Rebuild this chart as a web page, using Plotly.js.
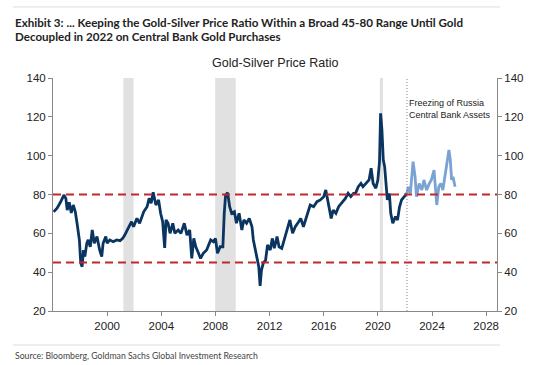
<!DOCTYPE html>
<html>
<head>
<meta charset="utf-8">
<script src="https://cdn.plot.ly/plotly-3.0.1.min.js"></script>
<style>
  html, body { margin: 0; padding: 0; background: #fff; }
  #chart { width: 559px; height: 365px; }
</style>
</head>
<body>
<div id="chart"></div>
<script>
// Gold-silver price ratio, before the freezing of Russian central bank assets
const yearsBefore = [1996.05,1996.3,1996.55,1996.8,1996.95,1997.05,1997.2,1997.35,1997.5,1997.65,1997.8,1997.95,
  1998.05,1998.15,1998.25,1998.35,1998.5,1998.6,1998.75,1998.9,1999.05,1999.25,1999.45,1999.6,1999.7,1999.9,
  2000.0,2000.2,2000.45,2000.7,2000.95,2001.15,2001.3,2001.55,2001.8,2001.95,2002.2,2002.4,2002.55,2002.7,2002.95,
  2003.1,2003.25,2003.4,2003.6,2003.8,2003.95,2004.1,2004.25,2004.35,2004.5,2004.65,2004.85,2005.0,2005.25,2005.45,
  2005.7,2005.9,2006.1,2006.25,2006.4,2006.55,2006.75,2006.9,2007.1,2007.35,2007.65,2007.85,2008.0,2008.15,2008.35,
  2008.55,2008.65,2008.75,2008.9,2009.05,2009.2,2009.4,2009.55,2009.75,2009.95,2010.1,2010.3,2010.5,2010.7,2010.8,
  2011.0,2011.2,2011.3,2011.4,2011.55,2011.7,2011.85,2012.05,2012.2,2012.35,2012.55,2012.7,2012.9,2013.15,2013.35,
  2013.5,2013.7,2013.9,2014.15,2014.3,2014.5,2014.75,2015.0,2015.25,2015.5,2015.75,2016.0,2016.15,2016.35,2016.55,
  2016.7,2016.9,2017.1,2017.3,2017.45,2017.6,2017.8,2018.0,2018.2,2018.35,2018.55,2018.75,2018.9,2019.15,2019.35,
  2019.5,2019.65,2019.85,2020.0,2020.12,2020.2,2020.3,2020.4,2020.5,2020.6,2020.7,2020.85,2020.95,2021.1,2021.3,
  2021.45,2021.6,2021.75,2021.95,2022.15];
const ratioBefore = [71.1,73,76,79.7,78,72,76,70.5,74.6,71,64,56.5,
  44.7,42.8,51.4,48,55,56.6,53,61.7,54.9,58.3,51.4,48,54.9,58.3,
  54.9,56.6,55.7,56.6,56.2,57.4,59.1,62.6,66,63.4,67.7,65.2,68.6,71.1,73.7,
  78,75.5,81.2,74.6,77.2,70.3,66,52.5,66.9,65.2,60,65.2,60,61.7,60,
  65.2,59.1,61.7,47.1,57.4,53.1,49.7,47.1,49.7,51.4,56.6,55.7,57.4,49.7,53.1,
  53.1,70.3,79.7,80.9,73.7,70.3,71.1,65.2,70.3,61.7,66.9,65.2,67.7,63.4,56.6,
  49.7,42.8,32.9,41.1,45,46,54,51.4,57.4,52.3,58.3,53.1,52.3,58.3,63.4,
  66.9,60,63.4,66,67.7,63.4,68.6,74.6,73.7,76.3,77.2,78.9,82.3,75.5,67.7,
  72,70.3,73.7,75.5,77.2,78,80.6,78.9,80.6,80.6,84,85.7,84,85.7,87.5,
  93.5,85.7,83.2,87.5,96.9,121.8,113.2,97.8,94.3,85.7,77.2,80.6,70.3,65.2,68.6,
  66.9,73.7,77.2,78.9,80.6];
// After the freezing
const yearsAfter = [2022.15,2022.25,2022.4,2022.5,2022.6,2022.75,2022.85,2023.05,2023.25,2023.4,2023.6,2023.8,2023.95,
  2024.15,2024.35,2024.5,2024.65,2024.8,2024.95,2025.1,2025.25,2025.35,2025.45,2025.55,2025.7];
const ratioAfter = [80.6,84,80.6,87.5,96.9,89.1,78.9,85.7,82.3,87.5,82.3,85.7,87.5,
  92.6,74.6,84,85.7,82.3,89.1,94.3,102.9,97.8,87.5,89.1,84];

const recessions = [[2001.2, 2001.95], [2007.98, 2009.5], [2020.15, 2020.38]];
const freezeDate = 2022.15;
const rangeLevels = [80, 45];
const xTicks = [2000, 2004, 2008, 2012, 2016, 2020, 2024, 2028];
const yTicks = [20, 40, 60, 80, 100, 120, 140];

const axisFont = {family: 'Liberation Sans, Arial, sans-serif', size: 11.5, color: '#222'};

const shapes = [];
recessions.forEach(r => shapes.push({type: 'rect', xref: 'x', yref: 'paper', x0: r[0], x1: r[1], y0: 0, y1: 1,
  fillcolor: '#e1e1e1', line: {width: 0}, layer: 'below'}));
rangeLevels.forEach(v => shapes.push({type: 'line', xref: 'paper', yref: 'y', x0: 0, x1: 1, y0: v, y1: v,
  line: {color: '#c0282d', width: 2, dash: '8px,5px'}, layer: 'above'}));
shapes.push({type: 'line', xref: 'x', yref: 'paper', x0: freezeDate, x1: freezeDate, y0: 0, y1: 1,
  line: {color: '#666', width: 0.8, dash: '1px,2px'}});
shapes.push({type: 'line', xref: 'paper', yref: 'paper', x0: -0.09, x1: 1.0068, y0: 1.305, y1: 1.305,
  line: {color: '#dcdcdc', width: 1}});
shapes.push({type: 'line', xref: 'paper', yref: 'paper', x0: -0.09, x1: 1.0068, y0: -0.146, y1: -0.146,
  line: {color: '#dcdcdc', width: 1}});

const headFont = {family: 'Lato, sans-serif', size: 11.6, color: '#222', weight: 'bold'};

const data = [
  {x: yearsBefore, y: ratioBefore, type: 'scatter', mode: 'lines', line: {color: '#0b3561', width: 2.8}, hoverinfo: 'skip'},
  {x: yearsAfter, y: ratioAfter, type: 'scatter', mode: 'lines', yaxis: 'y2', line: {color: '#7aa3d3', width: 2.8}, hoverinfo: 'skip'}
];

const layout = {
  width: 559, height: 365,
  margin: {l: 53, r: 62, t: 78, b: 54},
  paper_bgcolor: '#fff', plot_bgcolor: '#fff',
  showlegend: false,
  xaxis: {range: [1996, 2028.8], tickvals: xTicks, ticks: 'outside', ticklen: 4, tickcolor: '#888',
    showline: true, linecolor: '#888', linewidth: 1, showgrid: false, zeroline: false, tickfont: axisFont},
  yaxis: {range: [20, 140], tickvals: yTicks, ticks: 'outside', ticklen: 4, tickcolor: '#888',
    showline: true, linecolor: '#888', linewidth: 1, showgrid: false, zeroline: false, tickfont: axisFont},
  yaxis2: {range: [20, 140], tickvals: yTicks, overlaying: 'y', side: 'right', ticks: 'outside', ticklen: 4, tickcolor: '#888',
    showline: true, linecolor: '#888', linewidth: 1, showgrid: false, zeroline: false, tickfont: axisFont},
  shapes: shapes,
  annotations: [
    {xref: 'paper', yref: 'paper', x: -0.0901, y: 1.238, xanchor: 'left', yanchor: 'middle', showarrow: false,
      text: 'Exhibit 3: ... Keeping the Gold-Silver Price Ratio Within a Broad 45-80 Range Until Gold', font: headFont},
    {xref: 'paper', yref: 'paper', x: -0.0901, y: 1.176, xanchor: 'left', yanchor: 'middle', showarrow: false,
      text: 'Decoupled in 2022 on Central Bank Gold Purchases', font: headFont},
    {xref: 'paper', yref: 'paper', x: 0.5, y: 1.064, xanchor: 'center', yanchor: 'middle', showarrow: false,
      text: 'Gold-Silver Price Ratio', font: {family: 'Liberation Sans, Arial, sans-serif', size: 12.5, color: '#222'}},
    {xref: 'x', yref: 'paper', x: freezeDate, y: 0.867, xanchor: 'left', yanchor: 'middle', xshift: 0, showarrow: false, align: 'left',
      text: 'Freezing of Russia<br>Central Bank Assets', font: {family: 'Liberation Sans, Arial, sans-serif', size: 9, color: '#222'}},
    {xref: 'paper', yref: 'paper', x: -0.0901, y: -0.189, xanchor: 'left', yanchor: 'middle', showarrow: false,
      text: 'Source: Bloomberg, Goldman Sachs Global Investment Research', font: {family: 'Lato, Noto Sans, sans-serif', size: 8.7, color: '#444'}}
  ]
};

Plotly.newPlot('chart', data, layout, {staticPlot: true, displayModeBar: false});
</script>
</body>
</html>
